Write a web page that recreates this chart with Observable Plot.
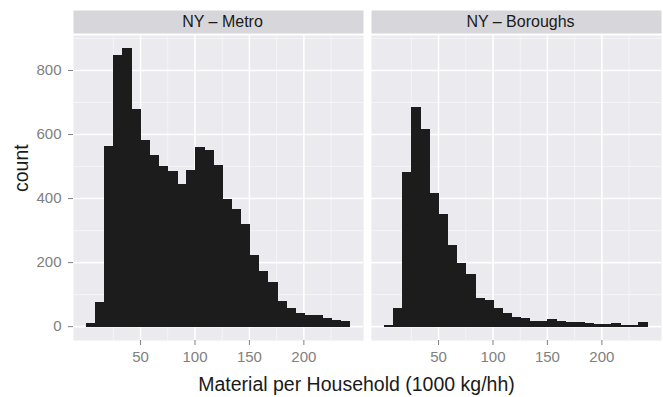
<!DOCTYPE html>
<html>
<head>
<meta charset="utf-8">
<script src="https://cdn.jsdelivr.net/npm/d3@7"></script>
<script src="https://cdn.jsdelivr.net/npm/@observablehq/plot@0.6"></script>
<style>
  html, body { margin: 0; padding: 0; background: #ffffff; }
  #chart { width: 663px; font-family: "Liberation Sans", Arial, Helvetica, sans-serif; }
  #xtitle { width: 663px; box-sizing: border-box; padding-left: 50px; padding-top: 6px;
            text-align: center; font-size: 19.5px; line-height: 24px; color: #1a1a1a; }
</style>
</head>
<body>
<div id="chart"></div>
<script>
// ---- data ----
const panels = ["NY – Metro", "NY – Boroughs"];
const binEdges = [0.5, 8.85, 17.2, 25.55, 33.9, 42.25, 50.6, 58.95, 67.3, 75.65, 84, 92.35,
  100.7, 109.05, 117.4, 125.75, 134.1, 142.45, 150.8, 159.15, 167.5, 175.85, 184.2, 192.55,
  200.9, 209.25, 217.6, 225.95, 234.3, 242.65];
const metroCounts = [9, 75, 560, 846, 866, 678, 579, 532, 499, 484, 441, 487, 558, 549, 502,
  394, 363, 319, 222, 171, 136, 77, 54, 41, 33, 33, 25, 18, 15];
const boroughCounts = [2, 54, 479, 684, 613, 415, 348, 251, 197, 161, 87, 81, 55, 41, 28,
  24, 16, 14, 21, 13, 11, 10, 7, 5, 6, 7, 3, 1, 10];
const xTicks = [50, 100, 150, 200];
const xMinor = [25, 75, 125, 175, 225];
const yTicks = [0, 200, 400, 600, 800];
const yMinor = [100, 300, 500, 700, 900];
const xLabel = "Material per Household (1000 kg/hh)";
const yLabel = "count";

// table for the library
const bins = [];
[metroCounts, boroughCounts].forEach((counts, p) => {
  counts.forEach((c, i) => bins.push({panel: panels[p], x1: binEdges[i], x2: binEdges[i + 1], count: c}));
});

const H = 366, MT = 35, MB = 26;
const panelH = H - MT - MB;
const tickColor = "#808080";
const barColor = "#1c1c1c";

const chart = Plot.plot({
  width: 663,
  height: H,
  marginLeft: 73,
  marginRight: 2,
  marginTop: MT,
  marginBottom: MB,
  style: {fontFamily: '"Liberation Sans", Arial, Helvetica, sans-serif', background: "#ffffff", overflow: "visible"},
  fx: {domain: panels, paddingInner: 0.0272, paddingOuter: 0, axis: null, label: null},
  x: {domain: [-11.6, 254.8]},
  y: {domain: [-43.3, 909.3]},
  marks: [
    // panel background
    Plot.frame({fill: "#EAEAEF", stroke: "none"}),
    // strip background and strip labels
    Plot.frame({fill: "#D7D7DB", stroke: "none", insetTop: -25, insetBottom: panelH + 2}),
    Plot.text(panels, {fx: d => d, text: d => d, frameAnchor: "top", lineAnchor: "middle",
      dy: -13.5, dx: 4, fontSize: 16, fill: "#1a1a1a"}),
    // grid
    Plot.gridX(xMinor, {stroke: "#F5F5F8", strokeOpacity: 1, strokeWidth: 1}),
    Plot.gridY(yMinor, {stroke: "#F5F5F8", strokeOpacity: 1, strokeWidth: 1}),
    Plot.gridX(xTicks, {stroke: "#ffffff", strokeOpacity: 1, strokeWidth: 1.6}),
    Plot.gridY(yTicks, {stroke: "#ffffff", strokeOpacity: 1, strokeWidth: 1.6}),
    // bars
    Plot.rectY(bins, {fx: "panel", x1: "x1", x2: "x2", y: "count", fill: barColor,
      stroke: barColor, strokeWidth: 1, shapeRendering: "crispEdges"}),
    // axes
    Plot.axisX(xTicks, {tickSize: 5, tickPadding: 6, fontSize: 15, stroke: tickColor, fill: tickColor, label: null}),
    Plot.axisY(yTicks, {tickSize: 5, tickPadding: 7, fontSize: 15, stroke: tickColor, fill: tickColor, label: null}),
    // y axis title on the first panel only
    Plot.text([yLabel], {fx: () => panels[0], text: d => d, frameAnchor: "left", rotate: -90,
      dx: -52, dy: 4, fontSize: 19.5, fill: "#1a1a1a"})
  ]
});
document.getElementById("chart").appendChild(chart);
const lbl = document.createElement("div");
lbl.id = "xtitle";
lbl.textContent = xLabel;
document.getElementById("chart").appendChild(lbl);
</script>
</body>
</html>
